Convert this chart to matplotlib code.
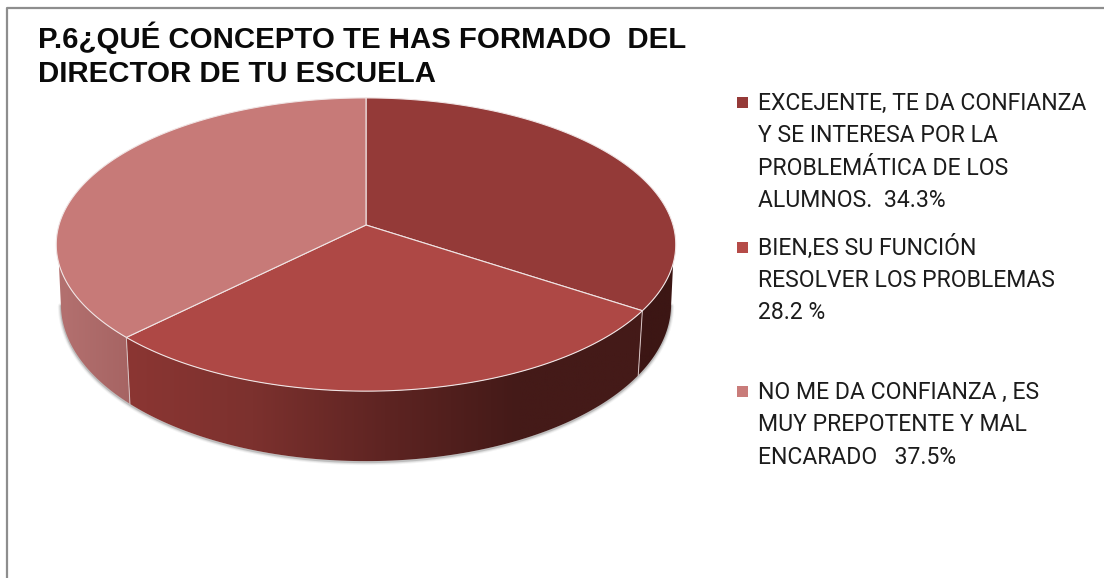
import matplotlib
matplotlib.use('Agg')
import matplotlib.pyplot as plt
from matplotlib.colors import LinearSegmentedColormap
from matplotlib.patches import Polygon
import numpy as np

# data
labels = [
    ['EXCEJENTE, TE DA CONFIANZA', 'Y SE INTERESA POR LA', 'PROBLEMÁTICA DE LOS', 'ALUMNOS.  34.3%'],
    ['BIEN,ES SU FUNCIÓN', 'RESOLVER LOS PROBLEMAS', '28.2 %'],
    ['NO ME DA CONFIANZA , ES', 'MUY PREPOTENTE Y MAL', 'ENCARADO   37.5%'],
]
values = [34.3, 28.2, 37.5]
title_lines = ['P.6¿QUÉ CONCEPTO TE HAS FORMADO  DEL', 'DIRECTOR DE TU ESCUELA']
colors = ['#943a38', '#ae4845', '#c77a78']
legend_colors = ['#953a38', '#b54b48', '#c97c7a']
legend_y = [[110, 142, 175, 207], [255, 287, 319], [399, 431, 464]]

# pie geometry in pixels, with a bit of perspective
cx, cy = 366, 225
a, b, k = 307, 144, 0.1332


def top_rim(theta):
    t = np.radians(theta)
    u, v = np.sin(t), np.cos(t)
    d = 1 + k * v
    return cx + a * u / d, cy - b * v / d


def low_rim(theta):
    x, y = top_rim(theta)
    v = np.cos(np.radians(theta))
    return cx + 0.985 * (x - cx), y + 58 - 12 * v


def wall(ax, t1, t2, t1b, t2b, cmap, x0, x1):
    # side of the pie between two angles, filled with a horizontal gradient
    tt = np.linspace(t1, t2, 100)
    tb = np.linspace(t2b, t1b, 100)
    xs = np.r_[top_rim(tt)[0], low_rim(tb)[0]]
    ys = np.r_[top_rim(tt)[1], low_rim(tb)[1]]
    pts = np.c_[xs, ys]
    im = ax.imshow(np.linspace(0, 1, 256)[None, :], cmap=cmap, extent=(x0, x1, 470, 240),
                   aspect='auto', zorder=2)
    clip = Polygon(pts, transform=ax.transData, fc='none', ec='none')
    ax.add_patch(clip)
    im.set_clip_path(clip)


fig = plt.figure(figsize=(11.04, 5.78), dpi=100)
ax = fig.add_axes([0, 0, 1, 1])

bounds = 360 * np.cumsum([0] + values) / sum(values)

# soft shadow under the side
tt = np.linspace(98, 262, 300)
lx, ly = low_rim(tt)
for w, al in [(6, 0.08), (4, 0.14), (2, 0.3)]:
    ax.plot(lx, ly + 1, color='#707070', lw=w * 0.72, alpha=al, zorder=1, solid_capstyle='round')

cm_right = LinearSegmentedColormap.from_list('r', ['#3c1614', '#3c1614'])
cm_front = LinearSegmentedColormap.from_list('f', ['#8c3633', '#7c312e', '#5e2422', '#441a18', '#441a18'])
cm_left = LinearSegmentedColormap.from_list('l', ['#b47170', '#a56362'])

wall(ax, 105, bounds[1], 98, bounds[1], cm_right, 620, 680)
wall(ax, bounds[1], bounds[2], bounds[1], bounds[2], cm_front, 120, 650)
wall(ax, bounds[2], 255, bounds[2], 262, cm_left, 56, 136)

# seams on the side
for t in bounds[1:3]:
    x1, y1 = top_rim(t)
    x2, y2 = low_rim(t)
    ax.plot([x1, x2], [y1, y2], color='#d8c4c4', lw=0.7, zorder=3)

# top of the pie
for i in range(3):
    tt = np.linspace(bounds[i], bounds[i + 1], 200)
    xs, ys = top_rim(tt)
    ax.add_patch(Polygon(np.c_[np.r_[cx, xs], np.r_[cy, ys]], fc=colors[i], ec='#f0e4e4', lw=0.8, zorder=4))

# legend
for i in range(3):
    ax.add_patch(plt.Rectangle((737, legend_y[i][0] - 13.5), 11, 11, fc=legend_colors[i], ec='none', zorder=5))
    for line, y in zip(labels[i], legend_y[i]):
        ax.text(758, y, line, family='Roboto', fontsize=16.6, color='#1c1c1c', va='baseline', ha='left')

# title
for line, y in zip(title_lines, [47.5, 82]):
    ax.text(38, y, line, family='Liberation Sans', fontweight='bold', fontsize=21.2, color='#0a0a0a',
            va='baseline', ha='left')

# frame of the picture, only top and left show
ax.plot([6.5, 6.5, 1104], [578, 7.5, 7.5], color='#8e8e8e', lw=1.6, zorder=6)

ax.set_xlim(0, 1104)
ax.set_ylim(578, 0)
ax.axis('off')
fig.savefig('out.png', dpi=100, facecolor='white')
